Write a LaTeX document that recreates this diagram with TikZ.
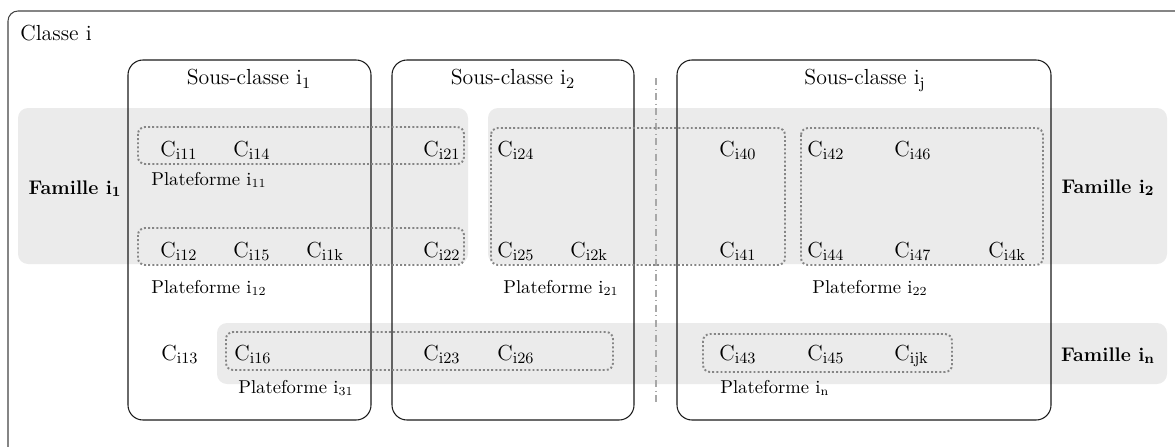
\documentclass[tikz,border=0pt]{standalone}
\definecolor{bandgray}{HTML}{EBEBEB}
\definecolor{dotgray}{HTML}{858585}
\definecolor{dashgray}{HTML}{A8A8A8}
\definecolor{boxline}{HTML}{1A1A1A}
\definecolor{outerline}{HTML}{444444}
\tikzset{
  band/.style={fill=bandgray, draw=none, rounded corners=0.2cm},
  subbox/.style={draw=boxline, line width=0.6pt, rounded corners=0.3cm},
  platbox/.style={draw=dotgray, line width=1.1pt, dash pattern=on 1.1pt off 1.25pt, rounded corners=0.14cm},
  cl/.style={inner sep=0pt, anchor=base west, font=\fontsize{12.4}{14}\selectfont},
  pl/.style={inner sep=0pt, anchor=base west, font=\fontsize{10.6}{12}\selectfont},
  title/.style={inner sep=0pt, anchor=base, font=\fontsize{12.4}{14}\selectfont},
  fam/.style={inner sep=0pt, anchor=base, font=\fontsize{11.2}{14}\selectfont\bfseries},
}
\begin{document}
\begin{tikzpicture}[x=0.02cm, y=-0.02cm]
\useasboundingbox (0,0) rectangle (1175,446);
\clip (0,0) rectangle (1175,446);
% outer box
\draw[outerline, line width=0.6pt, rounded corners=0.2cm] (8,11) rectangle (1190,460);
\node[cl] (classe) at (20,41) {Classe i};
% family bands
\fill[band] (18,108) rectangle (468,264);
\fill[band] (488,108) rectangle (1167,264);
\fill[band] (217,323) rectangle (1167,384);
% sub-class boxes
\draw[subbox] (128,60) rectangle (371,420);
\draw[subbox] (392,60) rectangle (634,420);
\draw[subbox] (677,60) rectangle (1051,420);
\node[title] (s1) at (249,85) {Sous-classe i$_1$};
\node[title] (s2) at (513,85) {Sous-classe i$_2$};
\node[title] (sj) at (865,85) {Sous-classe i$_{\mathrm{j}}$};
% separator
\coordinate (septop) at (656,78);
\coordinate (sepbot) at (656,402);
\draw[dashgray, line width=0.6pt, dash pattern=on 4pt off 2pt on 0.6pt off 2pt] (septop) -- (sepbot);
% platform boxes
\draw[platbox] (138,127) rectangle (464,164);
\draw[platbox] (138,228) rectangle (464,265);
\draw[platbox] (491,128) rectangle (785,265);
\draw[platbox] (801,128) rectangle (1043,265);
\draw[platbox] (226,332) rectangle (613,370);
\draw[platbox] (703,334) rectangle (952,372);
% family labels
\node[fam] (f1) at (75,194) {Famille i$_{\mathbf{1}}$};
\node[fam] (f2) at (1108,193) {Famille i$_{\mathbf{2}}$};
\node[fam] (fn) at (1108,361) {Famille i$_{\mathbf{n}}$};
% components row 1
\node[cl] (c11) at (160,156) {C$_{\mathrm{i11}}$};
\node[cl] (c14) at (233,156) {C$_{\mathrm{i14}}$};
\node[cl] (c21) at (423,156) {C$_{\mathrm{i21}}$};
\node[cl] (c24) at (497,156) {C$_{\mathrm{i24}}$};
\node[cl] (c40) at (719,156) {C$_{\mathrm{i40}}$};
\node[cl] (c42) at (807,156) {C$_{\mathrm{i42}}$};
\node[cl] (c46) at (894,156) {C$_{\mathrm{i46}}$};
% row 2
\node[cl] (c12) at (160,257) {C$_{\mathrm{i12}}$};
\node[cl] (c15) at (233,257) {C$_{\mathrm{i15}}$};
\node[cl] (c1k) at (306,257) {C$_{\mathrm{i1k}}$};
\node[cl] (c22) at (423,257) {C$_{\mathrm{i22}}$};
\node[cl] (c25) at (497,257) {C$_{\mathrm{i25}}$};
\node[cl] (c2k) at (570,257) {C$_{\mathrm{i2k}}$};
\node[cl] (c41) at (719,257) {C$_{\mathrm{i41}}$};
\node[cl] (c44) at (807,257) {C$_{\mathrm{i44}}$};
\node[cl] (c47) at (894,257) {C$_{\mathrm{i47}}$};
\node[cl] (c4k) at (988,257) {C$_{\mathrm{i4k}}$};
% row 3
\node[cl] (c13) at (161,360) {C$_{\mathrm{i13}}$};
\node[cl] (c16) at (234,360) {C$_{\mathrm{i16}}$};
\node[cl] (c23) at (423,360) {C$_{\mathrm{i23}}$};
\node[cl] (c26) at (497,360) {C$_{\mathrm{i26}}$};
\node[cl] (c43) at (719,360) {C$_{\mathrm{i43}}$};
\node[cl] (c45) at (807,360) {C$_{\mathrm{i45}}$};
\node[cl] (cjk) at (894,360) {C$_{\mathrm{ijk}}$};
% platform labels
\node[pl] (p11) at (151,185) {Plateforme i$_{11}$};
\node[pl] (p12) at (151,293) {Plateforme i$_{12}$};
\node[pl] (p21) at (503,293) {Plateforme i$_{21}$};
\node[pl] (p22) at (812,293) {Plateforme i$_{22}$};
\node[pl] (p31) at (238,393) {Plateforme i$_{31}$};
\node[pl] (pn) at (720,393) {Plateforme i$_{\mathrm{n}}$};
\end{tikzpicture}
\end{document}
